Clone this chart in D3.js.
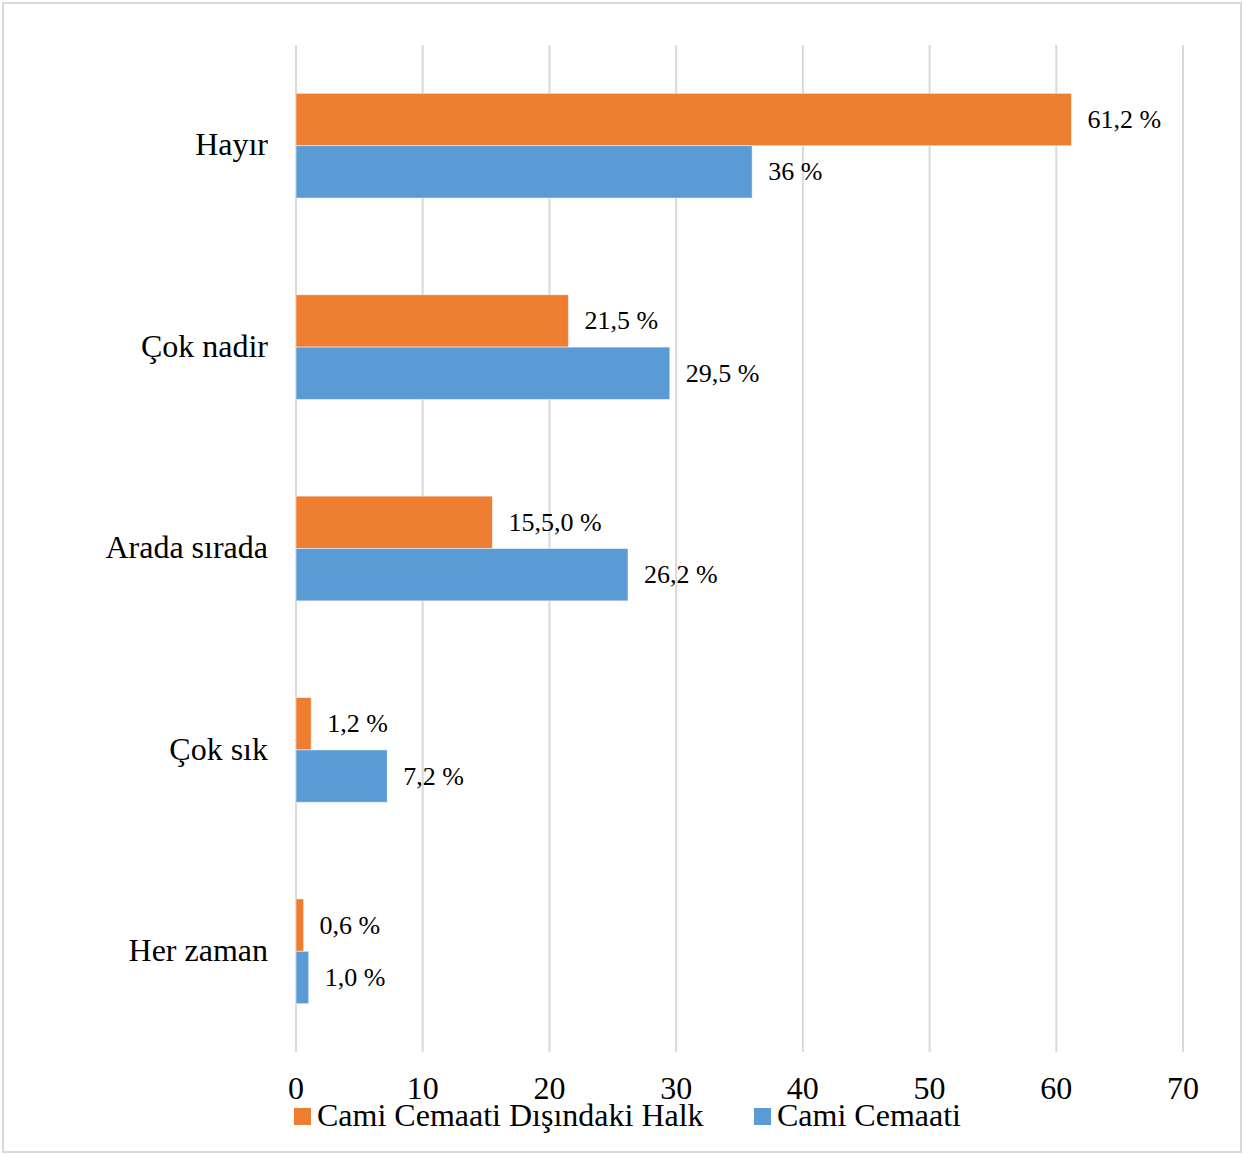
<!DOCTYPE html>
<html>
<head>
<meta charset="utf-8">
<script src="https://cdn.jsdelivr.net/npm/d3@7"></script>
<style>
  body { margin: 0; background: #fff; }
  text { font-family: "Liberation Serif", "Times New Roman", serif; fill: #000; }
</style>
</head>
<body>
<script>
// data
const categories = ['Hayır', 'Çok nadir', 'Arada sırada', 'Çok sık', 'Her zaman'];
const seriesNames = ['Cami Cemaati Dışındaki Halk', 'Cami Cemaati'];
const outsideValues = [61.2, 21.5, 15.5, 1.2, 0.6];
const outsideLabels = ['61,2 %', '21,5 %', '15,5,0 %', '1,2 %', '0,6 %'];
const cemaatValues = [36, 29.5, 26.2, 7.2, 1.0];
const cemaatLabels = ['36 %', '29,5 %', '26,2 %', '7,2 %', '1,0 %'];
const xTicks = [0, 10, 20, 30, 40, 50, 60, 70];
const colors = ['#ed7d31', '#5b9bd5'];

const W = 1244, H = 1155;
const plotLeft = 296, plotRight = 1183, plotTop = 45, plotBottom = 1052;

const svg = d3.select('body').append('svg')
    .attr('width', W)
    .attr('height', H);

// outer frame
svg.append('rect')
    .attr('x', 3).attr('y', 3)
    .attr('width', W - 6).attr('height', H - 6)
    .attr('fill', '#fff')
    .attr('stroke', '#d9d9d9')
    .attr('stroke-width', 2);

const x = d3.scaleLinear().domain([0, 70]).range([plotLeft, plotRight]);
const y = d3.scaleBand().domain(categories).range([plotTop, plotBottom]).paddingInner(0.48).paddingOuter(0.24);
const sub = d3.scaleBand().domain([0, 1]).range([0, y.bandwidth()]);

// grid
svg.append('g')
    .selectAll('line')
    .data(xTicks)
    .join('line')
    .attr('x1', d => x(d)).attr('x2', d => x(d))
    .attr('y1', plotTop).attr('y2', plotBottom)
    .attr('stroke', '#d9d9d9')
    .attr('stroke-width', 2);

// tick labels
svg.append('g')
    .selectAll('text')
    .data(xTicks)
    .join('text')
    .attr('x', d => x(d))
    .attr('y', 1099)
    .attr('text-anchor', 'middle')
    .style('font-size', '32px')
    .text(d => d);

// category labels
svg.append('g')
    .selectAll('text')
    .data(categories)
    .join('text')
    .attr('x', 268)
    .attr('y', d => y(d) + y.bandwidth() / 2)
    .attr('dy', '0.3em')
    .attr('text-anchor', 'end')
    .style('font-size', '32px')
    .text(d => d);

const rows = categories.map((c, i) => [
    { cat: c, s: 0, v: outsideValues[i], label: outsideLabels[i] },
    { cat: c, s: 1, v: cemaatValues[i], label: cemaatLabels[i] }
]).flat();

// bars
svg.append('g')
    .selectAll('rect')
    .data(rows)
    .join('rect')
    .attr('x', x(0))
    .attr('y', d => y(d.cat) + sub(d.s))
    .attr('width', d => x(d.v) - x(0))
    .attr('height', sub.bandwidth())
    .attr('fill', d => colors[d.s])
    .attr('stroke', '#fff')
    .attr('stroke-opacity', 0.5)
    .attr('stroke-width', 1);

// data labels
svg.append('g')
    .selectAll('text')
    .data(rows)
    .join('text')
    .attr('x', d => x(d.v) + 16)
    .attr('y', d => y(d.cat) + sub(d.s) + sub.bandwidth() / 2)
    .attr('dy', '0.33em')
    .style('font-size', '26px')
    .text(d => d.label);

// legend
const legendX = [294, 754];
const lg = svg.append('g')
    .selectAll('g')
    .data(seriesNames)
    .join('g')
    .attr('transform', (d, i) => `translate(${legendX[i]},1108)`);
lg.append('rect')
    .attr('width', 17).attr('height', 17)
    .attr('fill', (d, i) => colors[i]);
lg.append('text')
    .attr('x', 23)
    .attr('y', 18)
    .style('font-size', '32px')
    .text(d => d);
</script>
</body>
</html>
